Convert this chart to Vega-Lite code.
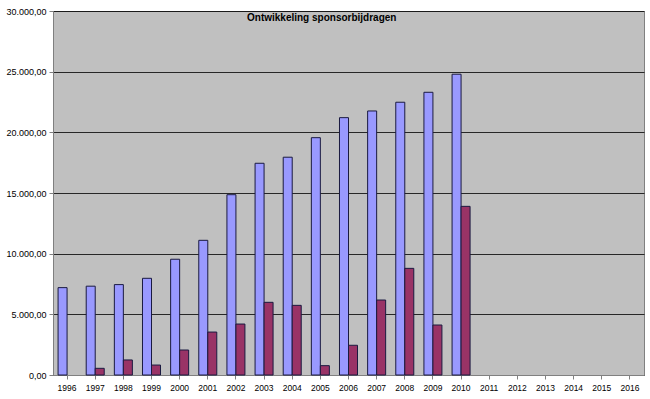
{
  "$schema": "https://vega.github.io/schema/vega-lite/v6.json",
  "width": 591,
  "height": 364,
  "autosize": {"type": "none"},
  "padding": {"left": 53, "top": 11, "right": 6, "bottom": 24},
  "background": "#FFFFFF",
  "title": {
    "text": "Ontwikkeling sponsorbijdragen",
    "anchor": "start",
    "frame": "group",
    "dx": 194,
    "offset": -24,
    "baseline": "alphabetic",
    "font": "Liberation Sans",
    "fontSize": 10,
    "fontWeight": "bold",
    "color": "#000000"
  },
  "config": {
    "view": {"stroke": "#808080", "strokeWidth": 1, "fill": "#C0C0C0"},
    "axis": {"labelFont": "Liberation Sans", "labelColor": "#000000", "domainColor": "#808080", "tickColor": "#808080"}
  },
  "data": {
    "values": [
      {"jaar": "1996", "reeks": "A", "bedrag": 7200},
      {"jaar": "1997", "reeks": "A", "bedrag": 7320},
      {"jaar": "1998", "reeks": "A", "bedrag": 7450},
      {"jaar": "1999", "reeks": "A", "bedrag": 7970},
      {"jaar": "2000", "reeks": "A", "bedrag": 9540},
      {"jaar": "2001", "reeks": "A", "bedrag": 11100},
      {"jaar": "2002", "reeks": "A", "bedrag": 14860},
      {"jaar": "2003", "reeks": "A", "bedrag": 17450},
      {"jaar": "2004", "reeks": "A", "bedrag": 17950},
      {"jaar": "2005", "reeks": "A", "bedrag": 19560},
      {"jaar": "2006", "reeks": "A", "bedrag": 21210},
      {"jaar": "2007", "reeks": "A", "bedrag": 21760},
      {"jaar": "2008", "reeks": "A", "bedrag": 22480},
      {"jaar": "2009", "reeks": "A", "bedrag": 23300},
      {"jaar": "2010", "reeks": "A", "bedrag": 24790},
      {"jaar": "1997", "reeks": "B", "bedrag": 550},
      {"jaar": "1998", "reeks": "B", "bedrag": 1240},
      {"jaar": "1999", "reeks": "B", "bedrag": 820},
      {"jaar": "2000", "reeks": "B", "bedrag": 2060},
      {"jaar": "2001", "reeks": "B", "bedrag": 3540},
      {"jaar": "2002", "reeks": "B", "bedrag": 4200},
      {"jaar": "2003", "reeks": "B", "bedrag": 5990},
      {"jaar": "2004", "reeks": "B", "bedrag": 5740},
      {"jaar": "2005", "reeks": "B", "bedrag": 770},
      {"jaar": "2006", "reeks": "B", "bedrag": 2450},
      {"jaar": "2007", "reeks": "B", "bedrag": 6180},
      {"jaar": "2008", "reeks": "B", "bedrag": 8790},
      {"jaar": "2009", "reeks": "B", "bedrag": 4120},
      {"jaar": "2010", "reeks": "B", "bedrag": 13900}
    ]
  },
  "mark": {"type": "bar", "stroke": "#1a1a40", "strokeWidth": 1},
  "encoding": {
    "x": {
      "field": "jaar",
      "type": "nominal",
      "scale": {
        "domain": ["1996","1997","1998","1999","2000","2001","2002","2003","2004","2005","2006","2007","2008","2009","2010","2011","2012","2013","2014","2015","2016"],
        "paddingInner": 0.36,
        "paddingOuter": 0.18
      },
      "axis": {
        "title": null,
        "labelAngle": 0,
        "labelFontSize": 8.5,
        "labelPadding": 4,
        "ticks": true,
        "tickSize": 4,
        "domain": true
      }
    },
    "xOffset": {"field": "reeks", "type": "nominal", "scale": {"domain": ["A", "B"]}},
    "y": {
      "field": "bedrag",
      "type": "quantitative",
      "scale": {"domain": [0, 30000], "nice": false},
      "axis": {
        "title": null,
        "values": [0, 5000, 10000, 15000, 20000, 25000, 30000],
        "labelExpr": "replace(replace(replace(format(datum.value, ',.2f'), ',', '#'), '.', ','), '#', '.')",
        "labelFontSize": 9,
        "labelPadding": 3,
        "tickSize": 4,
        "grid": true,
        "gridColor": "#000000",
        "gridOpacity": 0.8,
        "gridWidth": 1
      }
    },
    "color": {
      "field": "reeks",
      "type": "nominal",
      "scale": {"domain": ["A", "B"], "range": ["#9999FF", "#993366"]},
      "legend": null
    }
  }
}
